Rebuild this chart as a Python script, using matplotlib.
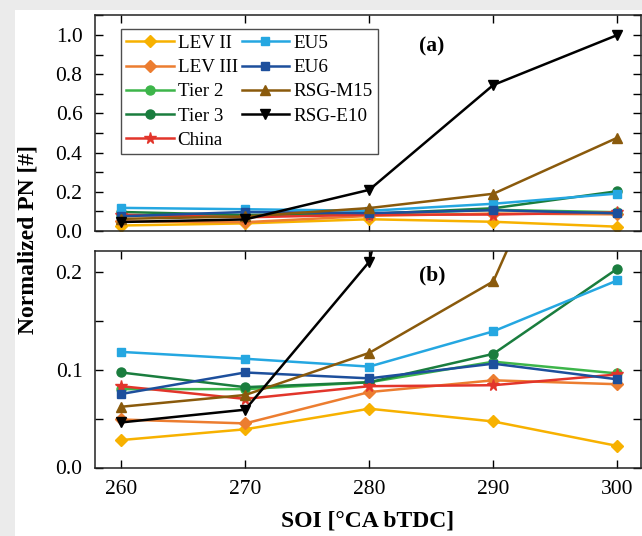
import numpy as np
import matplotlib
matplotlib.use("Agg")
import matplotlib.pyplot as plt
from matplotlib.patches import Rectangle
from matplotlib.ticker import MultipleLocator

############# DATA ###############

soi = [260, 270, 280, 290, 300]

lev2 = [0.028, 0.039, 0.060, 0.047, 0.022]
lev3 = [0.049, 0.045, 0.077, 0.089, 0.085]
tier2 = [0.080, 0.080, 0.087, 0.108, 0.096]
tier3 = [0.097, 0.082, 0.087, 0.116, 0.203]
china = [0.083, 0.070, 0.083, 0.084, 0.095]
eu5 = [0.118, 0.111, 0.103, 0.139, 0.191]
eu6 = [0.075, 0.097, 0.091, 0.106, 0.090]
rsg_m15 = [0.062, 0.074, 0.117, 0.190, 0.476]
rsg_e10 = [0.046, 0.059, 0.210, 0.745, 1.000]

labels = ['LEV II', 'LEV III', 'Tier 2', 'Tier 3', 'China',
          'EU5', 'EU6', 'RSG-M15', 'RSG-E10']
series = [lev2, lev3, tier2, tier3, china, eu5, eu6, rsg_m15, rsg_e10]
colors = ['#f7b100', '#ec7d30', '#3db54a', '#1a7d3e', '#e2352b',
          '#25a7e1', '#1d4f9c', '#8a5a0c', '#000000']
markers = ['D', 'D', 'o', 'o', '*', 's', 's', '^', 'v']
msizes = [6, 6, 6.5, 6.5, 8.5, 6, 6, 7, 7]

#################  PLOT  ###############################

plt.rcParams['font.family'] = 'Liberation Serif'

fig = plt.figure(figsize=(6.42, 5.36), dpi=100, facecolor='#ebebeb')
fig.patches.append(Rectangle((15/642, 0), 1, 1 - 10/536, transform=fig.transFigure,
                             facecolor='white', edgecolor='none', zorder=-10))

left, right = 95/642, 641/642
ax1 = fig.add_axes([left, 1 - 231/536, right - left, 216/536])
ax2 = fig.add_axes([left, 1 - 467.5/536, right - left, 216.5/536])

for ax in (ax1, ax2):
    for y, lab, c, m, ms in zip(series, labels, colors, markers, msizes):
        ax.plot(soi, y, color=c, marker=m, markersize=ms, lw=1.8, label=lab)
    ax.set_xlim(257.9, 301.9)
    ax.xaxis.set_major_locator(MultipleLocator(10))
    ax.tick_params(which='both', direction='in', top=True, right=True,
                   length=6, width=1, labelsize=15.5)
    ax.tick_params(axis='y', pad=9)
    ax.tick_params(axis='x', pad=9)
    for s in ax.spines.values():
        s.set_linewidth(1.1)
        s.set_color('#222222')

ax1.set_ylim(0, 1.102)
ax1.yaxis.set_minor_locator(MultipleLocator(0.1))
ax1.set_yticks([0.0, 0.2, 0.4, 0.6, 0.8, 1.0])
ax1.set_yticklabels(['0.0', '0.2', '0.4', '0.6', '0.8', '1.0'])
ax1.tick_params(labelbottom=False)

ax2.set_ylim(0, 0.221)
ax2.yaxis.set_minor_locator(MultipleLocator(0.05))
ax2.set_yticks([0.0, 0.1, 0.2])
ax2.set_yticklabels(['0.0', '0.1', '0.2'])

ax1.text(0.617, 0.852, '(a)', transform=ax1.transAxes, fontsize=15.5, fontweight='bold',
         ha='center', va='center')
ax2.text(0.617, 0.889, '(b)', transform=ax2.transAxes, fontsize=15.5, fontweight='bold',
         ha='center', va='center')

leg = ax1.legend(ncol=2, loc='upper left', bbox_to_anchor=(0.047, 0.935),
                 fontsize=13.7, frameon=True, fancybox=False, handlelength=2.5,
                 labelspacing=0.36, columnspacing=0.2, handletextpad=0.2,
                 borderpad=0.3, borderaxespad=0)
leg.get_frame().set_edgecolor('#222222')
leg.get_frame().set_linewidth(1.0)

ax2.set_xlabel('SOI [°CA bTDC]', fontsize=17, fontweight='bold', labelpad=8)
fig.text(28/642, 1 - 240/536, 'Normalized PN [#]', rotation=90, fontsize=17,
         fontweight='bold', ha='center', va='center')

plt.savefig('out.png', dpi=100, facecolor=fig.get_facecolor())
plt.close()
